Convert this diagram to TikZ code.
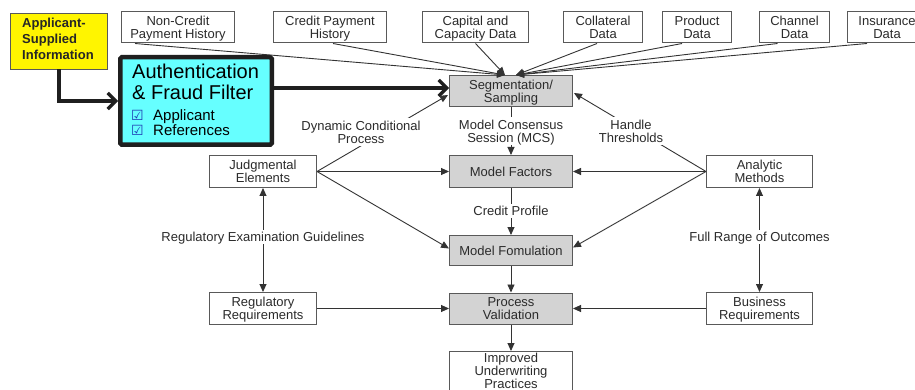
\documentclass[tikz,border=0pt]{standalone}
\usepackage{fontspec}
\setmainfont{Liberation Sans}
\newfontfamily\dejavu{DejaVu Sans}
\usetikzlibrary{arrows.meta,calc}
\definecolor{boxline}{HTML}{595959}
\definecolor{graybox}{HTML}{D3D3D3}
\definecolor{lnc}{HTML}{333333}
\definecolor{txt}{HTML}{2B2B2B}
\definecolor{cyanbox}{HTML}{66FFFF}
\definecolor{yelbox}{HTML}{FFF500}
\definecolor{chkblue}{HTML}{1E3CB4}
\tikzset{
  box/.style={draw=boxline, line width=1pt, fill=white, minimum height=31pt,
    inner sep=1pt, align=center, font=\fontsize{13}{13.3}\selectfont, text=txt,
    text height=22.8pt, text depth=0pt},
  oneline/.style={text height=9.5pt, text depth=0pt},
  gbox/.style={box, fill=graybox, minimum width=123pt},
  lab/.style={fill=white, inner xsep=1.5pt, inner ysep=2.5pt, align=center,
    font=\fontsize{13}{13.3}\selectfont, text=txt, text height=22.8pt, text depth=0pt},
  conn/.style={draw=lnc, line width=0.9pt, -{Triangle[length=8pt,width=7pt]}},
  dconn/.style={draw=lnc, line width=0.9pt, {Triangle[length=8pt,width=7pt]}-{Triangle[length=8pt,width=7pt]}},
  fat/.style={draw=black!88, line width=3.6pt, -{Straight Barb[length=8pt,width=16pt,line width=3.2pt]}},
  authtxt/.style={anchor=base west, inner sep=0pt, text=black}
}
\begin{document}
\begin{tikzpicture}[x=1pt,y=-1pt]
\useasboundingbox (0,0) rectangle (915,390);
\clip (0,0) rectangle (915,390);
\fill[white] (0,0) rectangle (915,390);

% top data boxes
\node[box, minimum width=113pt] (nc) at (178,27.5) {Non-Credit\\Payment History};
\node[box, minimum width=113pt] (cp) at (330,27.5) {Credit Payment\\History};
\node[box, minimum width=106pt] (cc) at (475.5,27.5) {Capital and\\Capacity Data};
\node[box, minimum width=79pt] (col) at (603,27.5) {Collateral\\Data};
\node[box, minimum width=69pt] (prod) at (697,27.5) {Product\\Data};
\node[box, minimum width=70pt] (chan) at (794.5,27.5) {Channel\\Data};
\node[box, minimum width=79pt] (ins) at (887,27.5) {Insurance\\Data};

% applicant and authentication
\node[draw=boxline, line width=0.8pt, fill=yelbox, minimum width=97pt, minimum height=56pt, inner sep=0pt] (asi) at (59,41) {};
\node[anchor=base west, inner sep=0pt, font=\bfseries\fontsize{13}{16}\selectfont, text=black!85] (asi1) at (22,28) {Applicant-};
\node[anchor=base west, inner sep=0pt, font=\bfseries\fontsize{13}{16}\selectfont, text=black!85] (asi2) at (22,44) {Supplied};
\node[anchor=base west, inner sep=0pt, font=\bfseries\fontsize{13}{16}\selectfont, text=black!85] (asi3) at (22,60) {Information};

\node[draw=black!88, line width=4.5pt, fill=cyanbox, rounded corners=1.5pt, minimum width=151.5pt, minimum height=87.5pt, inner sep=0pt] (auth) at (196,101) {};
\node[authtxt, font=\fontsize{20}{22}\selectfont] (au1) at (132,79) {Authentication};
\node[authtxt, font=\fontsize{20}{22}\selectfont] (au2) at (132,100) {\& Fraud Filter};
\node[authtxt, font=\dejavu\fontsize{14}{16}\selectfont, text=chkblue] (ck1) at (131,121) {☑};
\node[authtxt, font=\fontsize{15}{16}\selectfont] (au3) at (153,121) {Applicant};
\node[authtxt, font=\dejavu\fontsize{14}{16}\selectfont, text=chkblue] (ck2) at (131,136) {☑};
\node[authtxt, font=\fontsize{15}{16}\selectfont] (au4) at (153,136) {References};

% central column
\node[gbox, minimum height=31pt] (seg) at (511,91) {Segmentation/\\Sampling};
\node[gbox, oneline, minimum height=32pt] (mf) at (511,171.5) {Model Factors};
\node[gbox, oneline, minimum height=30pt] (mfo) at (511,250.5) {Model Fomulation};
\node[gbox, minimum height=31pt] (pv) at (511,308.5) {Process\\Validation};
\node[box, minimum width=123pt, minimum height=0pt, inner ysep=1.5pt, text height=35.5pt, text depth=14pt, font=\fontsize{13}{13}\selectfont, anchor=north] (iu) at (511,351) {Improved\\Underwriting\\Practices};

% side boxes
\node[box, minimum width=107pt, minimum height=32pt] (je) at (263,171.5) {Judgmental\\Elements};
\node[box, minimum width=107pt, minimum height=32pt] (rr) at (263,308.5) {Regulatory\\Requirements};
\node[box, minimum width=106pt, minimum height=32pt] (am) at (759.5,171.5) {Analytic\\Methods};
\node[box, minimum width=106pt, minimum height=32pt] (br) at (759.5,308.5) {Business\\Requirements};

% converging data lines
\coordinate (tl) at ($(seg.north)+(-6,0)$);
\coordinate (tr) at ($(seg.north)+(5,0)$);
\draw[conn] ($(nc.south)+(-43,0)$) -- (tl);
\draw[conn] ($(cp.south)+(3,0)$) -- (tl);
\draw[conn] (cc.south) -- (tl);
\draw[conn] ($(col.south)+(-6,0)$) -- (tr);
\draw[conn] ($(prod.south)+(-15,0)$) -- (tr);
\draw[conn] ($(chan.south)+(-17,0)$) -- (tr);
\draw[conn] ($(ins.south)+(-20,0)$) -- (tr);

% thick arrows
\coordinate (sa) at ($(seg.west)+(0,-3)$);
\draw[fat] (auth.east |- sa) -- (sa);
\draw[fat, line join=miter] (asi.south) -- (asi.south |- auth.west) -- (auth.west);

% left connectors
\draw[conn] (je.east) -- ($(seg.west)+(-1,4)$);
\draw[conn] (je.east) -- (mf.west);
\draw[conn] (je.east) -- ($(mfo.west)+(0,-2)$);
% right connectors
\draw[conn] (am.west) -- ($(seg.east)+(1,2)$);
\draw[conn] (am.west) -- (mf.east);
\draw[conn] (am.west) -- ($(mfo.east)+(0,-3)$);
% central
\draw[conn] (seg.south) -- (mf.north);
\draw[conn] (mf.south) -- (mfo.north);
\draw[conn] (mfo.south) -- (pv.north);
\draw[conn] (pv.south) -- (iu.north);
\draw[conn] (rr.east) -- (pv.west);
\draw[conn] (br.west) -- (pv.east);
\draw[dconn] (je.south) -- (rr.north);
\draw[dconn] (am.south) -- (br.north);

% labels
\node[lab] (dyn) at (361,132) {Dynamic Conditional\\Process};
\node[lab] (ht) at (631,131) {Handle\\Thresholds};
\node[lab] (mcs) at (511,131) {Model Consensus\\Session (MCS)};
\node[lab, oneline] (crp) at (511,211) {Credit Profile};
\node[lab, oneline] (reg) at (263,237) {Regulatory Examination Guidelines};
\node[lab, oneline] (fro) at (759.5,237) {Full Range of Outcomes};
\end{tikzpicture}
\end{document}
